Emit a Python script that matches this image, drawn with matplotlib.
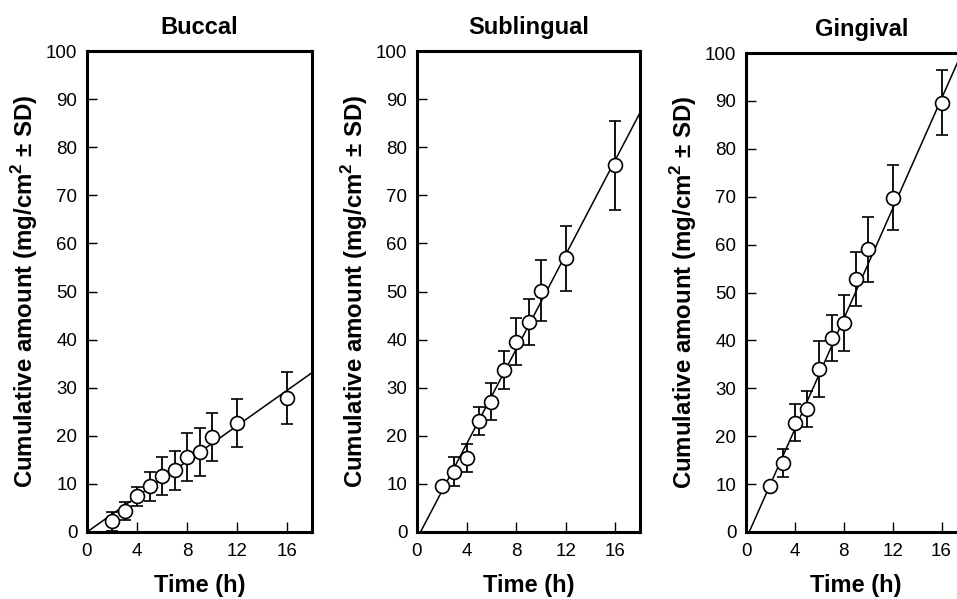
import numpy as np
import matplotlib.pyplot as plt

plt.rcParams['font.family'] = ['Liberation Sans', 'DejaVu Sans']
plt.rcParams['mathtext.fontset'] = 'custom'
plt.rcParams['mathtext.rm'] = 'Liberation Sans'
plt.rcParams['mathtext.bf'] = 'Liberation Sans:bold'

# time points (h)
time_h = [2, 3, 4, 5, 6, 7, 8, 9, 10, 12, 16]

# Buccal
buccal_mean = [2.2, 4.4, 7.4, 9.5, 11.6, 12.8, 15.6, 16.7, 19.7, 22.6, 27.9]
buccal_sd = [2.0, 1.9, 1.9, 3.0, 4.0, 4.0, 4.9, 5.0, 5.0, 5.0, 5.4]
buccal_fit = (1.84, 0.0)  # slope, intercept

# Sublingual
sublingual_mean = [9.5, 12.5, 15.4, 23.1, 27.1, 33.7, 39.6, 43.6, 50.2, 56.9, 76.2]
sublingual_sd = [0.4, 3.0, 2.9, 2.9, 3.9, 3.9, 4.8, 4.8, 6.3, 6.7, 9.2]
sublingual_fit = (4.92, -1.4)

# Gingival
gingival_mean = [9.6, 14.4, 22.8, 25.7, 34.0, 40.6, 43.6, 52.8, 59.0, 69.8, 89.6]
gingival_sd = [0.4, 3.0, 3.9, 3.8, 5.8, 4.8, 5.8, 5.7, 6.8, 6.8, 6.8]
gingival_fit = (5.75, -1.5)

titles = ['Buccal', 'Sublingual', 'Gingival']
means = [buccal_mean, sublingual_mean, gingival_mean]
sds = [buccal_sd, sublingual_sd, gingival_sd]
fits = [buccal_fit, sublingual_fit, gingival_fit]

W, H = 957, 599
# axes boxes in pixels: left, top, right, bottom
boxes = [(87, 51, 312, 532), (417, 51, 640, 532), (746, 53, 966, 532)]
title_x = [0.5, 0.5, 0.527]
ylabel_x = [40, 370, 699]

fig = plt.figure(figsize=(W / 100, H / 100), dpi=100)

for i in range(3):
    l, t, r, b = boxes[i]
    ax = fig.add_axes([l / W, 1 - b / H, (r - l) / W, (b - t) / H])

    slope, icpt = fits[i]
    x0 = max(0.0, -icpt / slope)
    xl = np.array([x0, 18.0])
    ax.plot(xl, slope * xl + icpt, color='black', lw=1.1, zorder=2)

    ax.errorbar(time_h, means[i], yerr=sds[i], fmt='o', ms=10, mfc='white',
                mec='black', mew=1.2, ecolor='black', elinewidth=1.3,
                capsize=4, capthick=1.3, zorder=3)

    ax.set_xlim(0, 18)
    ax.set_ylim(0, 100)
    ax.set_xticks([0, 4, 8, 12, 16])
    ax.set_yticks(range(0, 101, 10))
    ax.tick_params(direction='in', length=7, width=1, labelsize=13.5)
    ax.tick_params(axis='x', pad=8)
    ax.tick_params(axis='y', pad=7)
    for s in ax.spines.values():
        s.set_linewidth(2.2)

    ax.set_title(titles[i], fontsize=17, fontweight='bold', pad=12.5, x=title_x[i])
    ax.set_xlabel('Time (h)', fontsize=17, fontweight='bold', labelpad=10)
    ax.set_ylabel(r'Cumulative amount (mg/cm$^\mathbf{2}$ ± SD)', fontsize=17.3,
                  fontweight='bold')
    ax.yaxis.set_label_coords((ylabel_x[i] - l) / (r - l), 0.5)

fig.savefig('out.png', dpi=100)
